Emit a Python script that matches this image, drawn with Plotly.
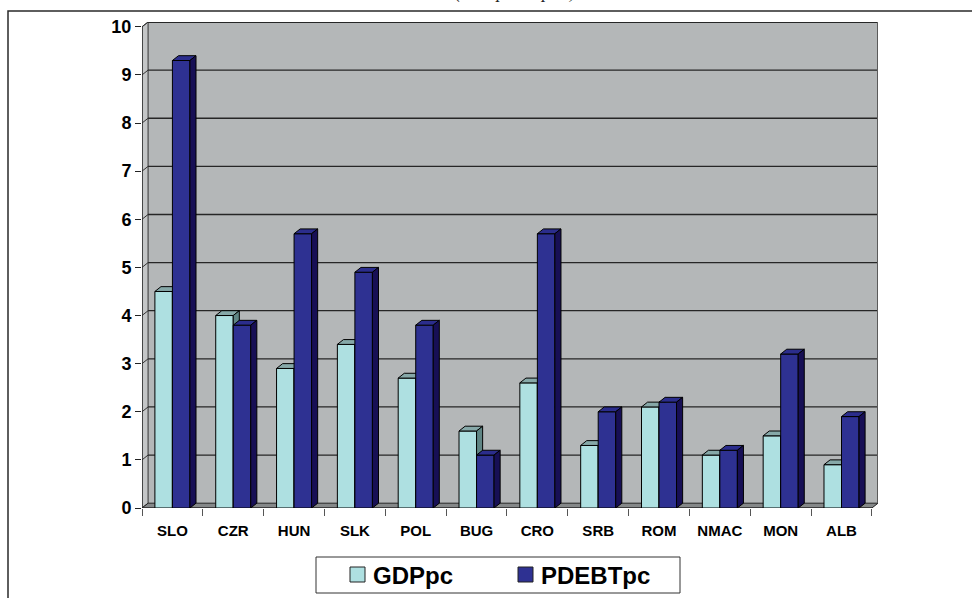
import plotly.graph_objects as go

# Country codes and per-capita values
countries = ["SLO", "CZR", "HUN", "SLK", "POL", "BUG", "CRO", "SRB", "ROM", "NMAC", "MON", "ALB"]
gdp_pc = [4.5, 4.0, 2.9, 3.4, 2.7, 1.6, 2.6, 1.3, 2.1, 1.1, 1.5, 0.9]
pdebt_pc = [9.3, 3.8, 5.7, 4.9, 3.8, 1.1, 5.7, 2.0, 2.2, 1.2, 3.2, 1.9]
y_ticks = list(range(0, 11))

# Styling
W = 0.288          # front-face width of one column (category units)
DX, DY = 0.1, 0.1  # oblique depth offset of the 3-D look
N = len(countries)
YMAX = 10

GDP_FRONT, GDP_TOP, GDP_SIDE = "#aee0e1", "#86a8a8", "#5f8584"
DEBT_FRONT, DEBT_TOP, DEBT_SIDE = "#2e3192", "#2b2d8c", "#170f55"
WALL_BACK, WALL_LEFT, FLOOR = "#b4b7b8", "#c4c6c7", "#858889"
FONT = "Liberation Sans"

# Plot area in pixels: x 142..878, y 22..508
L, R, T, B = 142, 878, 22, 508
FW, FH = 972, 598


def px(x):
    return (x - L) / (R - L)


def py(y):
    return (B - y) / (B - T)


def faces(values, offset):
    """Top and side faces of the columns, as closed polygons."""
    tx, ty, sx, sy = [], [], [], []
    for i, v in enumerate(values):
        x0 = i + 0.5 + offset
        x1 = x0 + W
        tx += [x0, x0 + DX, x1 + DX, x1, x0, None]
        ty += [v, v + DY, v + DY, v, v, None]
        sx += [x1, x1 + DX, x1 + DX, x1, x1, None]
        sy += [0, DY, v + DY, v, 0, None]
    return tx, ty, sx, sy


centers = [i + 0.5 for i in range(N)]
fig = go.Figure()


def add_series(values, offset, front, top, side, xa, ya, name):
    fig.add_trace(go.Bar(
        x=centers, y=values, width=W, offset=offset, name=name,
        marker=dict(color=front, line=dict(color="black", width=1)),
        xaxis=xa, yaxis=ya, showlegend=False,
    ))
    tx, ty, sx, sy = faces(values, offset)
    for fx, fy, col in ((tx, ty, top), (sx, sy, side)):
        fig.add_trace(go.Scatter(
            x=fx, y=fy, mode="lines", fill="toself", fillcolor=col,
            line=dict(color="black", width=1), xaxis=xa, yaxis=ya,
            showlegend=False, hoverinfo="skip",
        ))


add_series(gdp_pc, -W, GDP_FRONT, GDP_TOP, GDP_SIDE, "x", "y", "GDPpc")
add_series(pdebt_pc, 0, DEBT_FRONT, DEBT_TOP, DEBT_SIDE, "x2", "y2", "PDEBTpc")

shapes = []
# back wall, left wall and floor
shapes.append(dict(type="rect", x0=DX, x1=N + DX, y0=DY, y1=YMAX + DY,
                   fillcolor=WALL_BACK, line=dict(width=0), layer="below"))
shapes.append(dict(type="path",
                   path=f"M0,0 L{DX},{DY} L{DX},{YMAX + DY} L0,{YMAX} Z",
                   fillcolor=WALL_LEFT, line=dict(color="#333", width=1), layer="below"))
shapes.append(dict(type="path",
                   path=f"M0,0 L{DX},{DY} L{N + DX},{DY} L{N},0 Z",
                   fillcolor=FLOOR, line=dict(color="#222", width=1), layer="below"))
# gridlines on the back and left walls
for k in y_ticks[1:]:
    shapes.append(dict(type="line", x0=DX, x1=N + DX, y0=k + DY, y1=k + DY,
                       line=dict(color="#262626", width=2 if k == YMAX else 1.3),
                       layer="below"))
    shapes.append(dict(type="line", x0=0, x1=DX, y0=k, y1=k + DY,
                       line=dict(color="#333", width=1), layer="below"))
# wall edges and front axis line
shapes.append(dict(type="line", x0=N + DX, x1=N + DX, y0=DY, y1=YMAX + DY,
                   line=dict(color="#5a5a5a", width=2), layer="below"))
shapes.append(dict(type="line", x0=0, x1=0, y0=0, y1=YMAX,
                   line=dict(color="#222", width=1.2), layer="below"))
shapes.append(dict(type="line", x0=0, x1=N, y0=0, y1=0,
                   line=dict(color="#222", width=1.2), layer="below"))

# outer chart frame
shapes.append(dict(type="rect", xref="paper", yref="paper",
                   x0=px(8), x1=px(990), y0=py(11), y1=py(620),
                   line=dict(color="#2a2a2a", width=1.5), fillcolor="rgba(0,0,0,0)"))

# legend box with swatches
shapes.append(dict(type="rect", xref="paper", yref="paper",
                   x0=px(316), x1=px(680), y0=py(557), y1=py(593),
                   line=dict(color="#333", width=1), fillcolor="white"))
legend_items = [("GDPpc", GDP_FRONT, 350), ("PDEBTpc", DEBT_FRONT, 518)]
annotations = []
for label, col, x in legend_items:
    shapes.append(dict(type="rect", xref="paper", yref="paper",
                       x0=px(x), x1=px(x + 15), y0=py(567), y1=py(582),
                       line=dict(color="#222", width=1), fillcolor=col))
    annotations.append(dict(xref="paper", yref="paper", x=px(x + 21), y=py(575),
                            text=label, showarrow=False, xanchor="left", yanchor="middle",
                            font=dict(family=FONT, size=24, color="black", weight="bold")))

# caption line running off the top of the page
annotations.append(dict(xref="paper", yref="paper", x=px(515), y=py(5),
                        text="(debt per capita)", showarrow=False,
                        xanchor="center", yanchor="bottom",
                        font=dict(family="Liberation Serif", size=18, color="#222",
                                  style="italic")))

fig.update_layout(
    width=FW, height=FH,
    margin=dict(l=L, r=FW - R, t=T, b=FH - B),
    paper_bgcolor="white", plot_bgcolor="white",
    barmode="overlay", showlegend=False,
    shapes=shapes, annotations=annotations,
    xaxis=dict(range=[0, N + DX], tickvals=centers, ticktext=countries,
               ticks="", showgrid=False, zeroline=False, showline=False,
               ticklabelstandoff=12,
               tickfont=dict(family=FONT, size=15, color="black", weight="bold"),
               minor=dict(tickvals=list(range(N + 1)), ticks="outside", ticklen=7,
                          tickcolor="#555", tickwidth=1, showgrid=False),
               fixedrange=True),
    yaxis=dict(range=[0, YMAX + DY], tickvals=y_ticks, ticks="outside", ticklen=6,
               tickcolor="#222", tickwidth=1, showgrid=False, zeroline=False,
               showline=False,
               tickfont=dict(family=FONT, size=18, color="black", weight="bold"),
               fixedrange=True),
    xaxis2=dict(range=[0, N + DX], overlaying="x", visible=False, fixedrange=True),
    yaxis2=dict(range=[0, YMAX + DY], overlaying="y", visible=False, fixedrange=True),
)

fig.write_html("out.html")
